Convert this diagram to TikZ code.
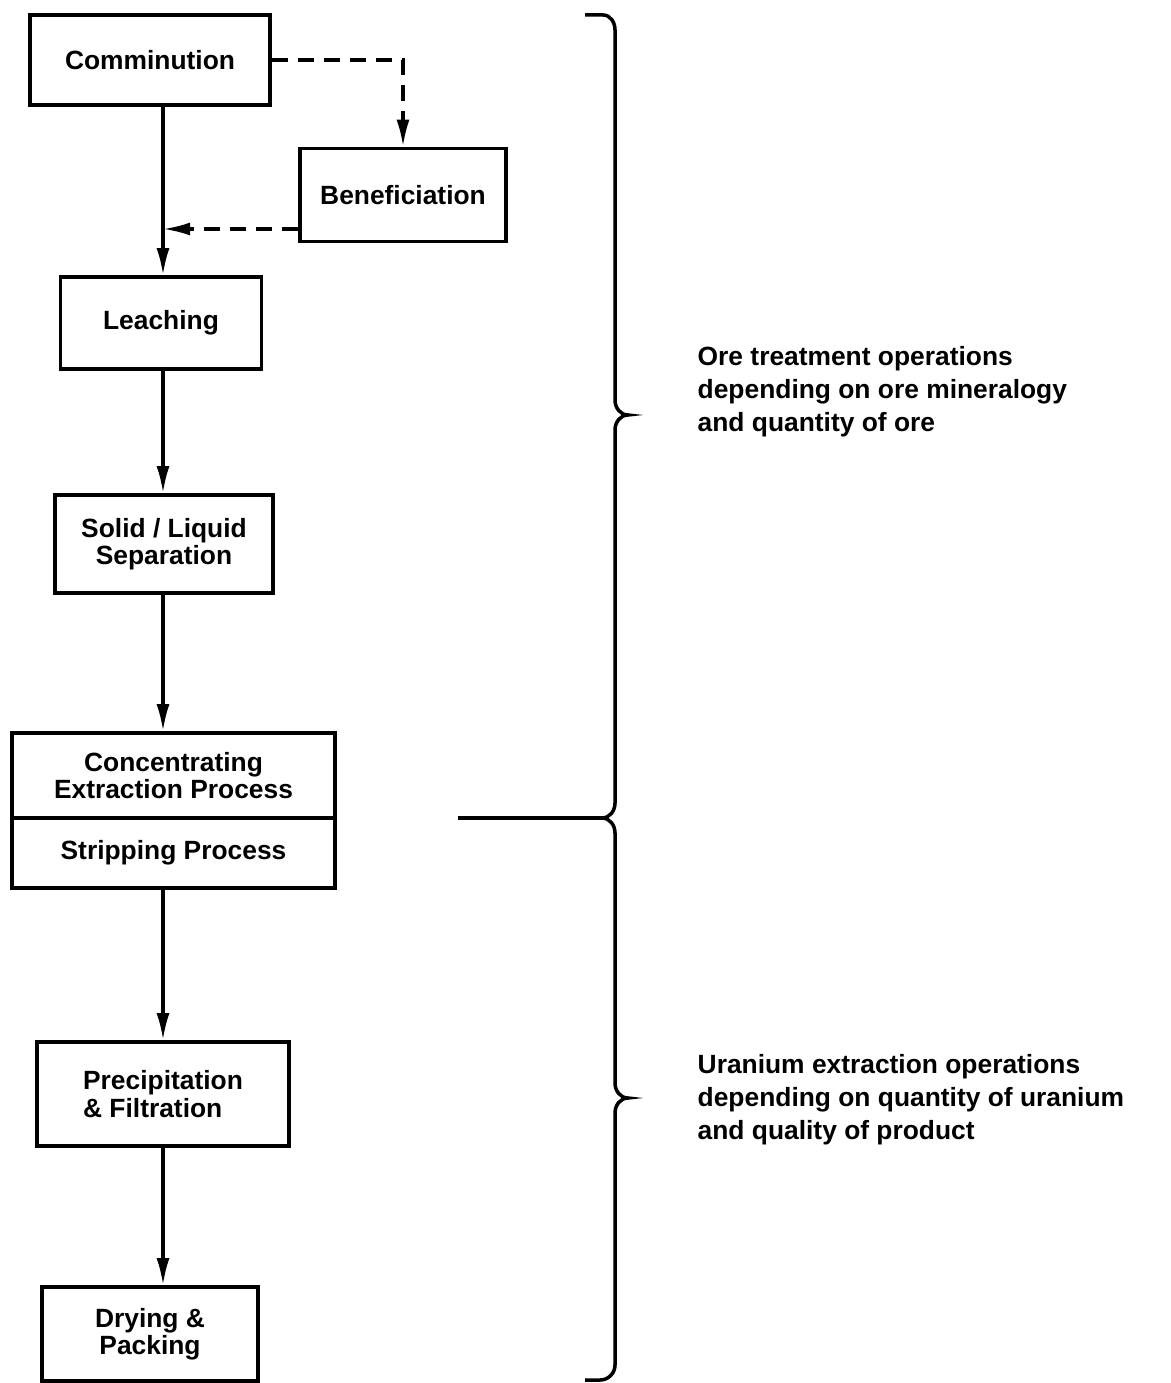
\documentclass[tikz,border=0pt]{standalone}
\usepackage{fontspec}
\setmainfont{Liberation Sans}
\usepackage{tikz}
\usetikzlibrary{arrows.meta,positioning,calc}

\begin{document}
\begin{tikzpicture}[x=0.01cm,y=-0.01cm,
		stage/.style={draw, line width=1pt, align=center, inner sep=0pt, font=\fontsize{7.5}{7.8}\selectfont\bfseries},
		flow/.style={line width=0.9pt, -{Latex[length=2.7mm,width=1.3mm]}},
		bypass/.style={flow, dash pattern=on 1.6mm off 1mm},
		remark/.style={align=left, anchor=west, inner sep=0pt, font=\fontsize{7.5}{9.4}\selectfont\bfseries}]
		\useasboundingbox (0,0) rectangle (1170,1383);

		% process column
		\coordinate (axis) at (163,0);
		\node[stage, minimum width=2.40cm, minimum height=0.90cm] (comm) at (150,60) {Comminution};
		\node[stage, minimum width=2.06cm, minimum height=0.93cm] (benef) at (403,195) {Beneficiation};
		\node[stage, minimum width=2.01cm, minimum height=0.92cm] (leach) at (161,323) {Leaching};
		\node[stage, minimum width=2.18cm, minimum height=0.98cm] (solid) at (164,544) {Solid / Liquid\\Separation};
		\node[stage, minimum width=3.23cm, minimum height=0.85cm] (conc) at (173.5,775.5) {Concentrating\\Extraction Process};
		\node[stage, minimum width=3.23cm, minimum height=0.70cm] (strip) at (173.5,853) {Stripping Process};
		\node[stage, align=left, minimum width=2.52cm, minimum height=1.04cm] (precip) at (163,1094) {Precipitation\\\& Filtration};
		\node[stage, minimum width=2.16cm, minimum height=0.94cm] (dry) at (150,1334) {Drying \&\\Packing};

		% flows
		\coordinate (merge) at (163,229);
		\draw[flow] (comm.south -| axis) -- (leach.north -| axis);
		\draw[bypass] (comm.east) -| (benef.north);
		\draw[bypass] (merge -| benef.west) -- (merge);
		\draw[flow] (leach.south -| axis) -- (solid.north -| axis);
		\draw[flow] (solid.south -| axis) -- (conc.north -| axis);
		\draw[flow] (strip.south -| axis) -- (precip.north -| axis);
		\draw[flow] (precip.south -| axis) -- (dry.north -| axis);

		% braces
		\draw[line width=1pt] (585,15) -- (603,15) to[out=0,in=90] (615,30) -- (615,400)
			to[out=-90,in=180] (628,415) to[out=180,in=90] (615,430) -- (615,803)
			to[out=-90,in=0] (602,818) -- (458,818);
		\draw[line width=1pt] (602,818) to[out=0,in=90] (615,833) -- (615,1083)
			to[out=-90,in=180] (628,1098) to[out=180,in=90] (615,1113) -- (615,1365)
			to[out=-90,in=0] (600,1380) -- (585,1380);

		\node[remark] (oretext) at (697,392) {Ore treatment operations\\depending on ore mineralogy\\and quantity of ore};
		\node[remark] (urantext) at (697,1100) {Uranium extraction operations\\depending on quantity of uranium\\and quality of product};
	\end{tikzpicture}
\end{document}
